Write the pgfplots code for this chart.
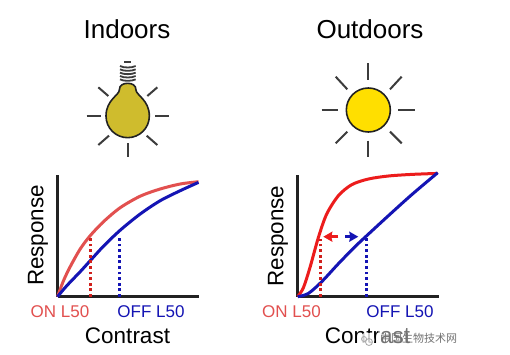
\documentclass[border=0pt]{standalone}
\usepackage{fontspec}
\setmainfont{Liberation Sans}
\newfontfamily\cjk{Noto Sans CJK SC}
\usepackage{pgfplots}
\pgfplotsset{compat=1.18}
\usetikzlibrary{arrows.meta}
\definecolor{axk}{HTML}{222222}
\definecolor{redA}{HTML}{E2504F}
\definecolor{redB}{HTML}{EC1C1C}
\definecolor{redD}{HTML}{D0201C}
\definecolor{blueA}{HTML}{1414B4}
\definecolor{bulbY}{HTML}{CFBC2D}
\definecolor{sunY}{HTML}{FFDF00}
\definecolor{ray}{HTML}{3C3C3C}
\pgfplotsset{panel/.style={
  scale only axis, width=141pt, height=122pt, anchor=south west,
  xmin=0, xmax=141, ymin=0, ymax=122, clip=false,
  axis lines=left, axis line style={-, line width=2.5pt, color=axk},
  xtick=\empty, ytick=\empty},
  curve/.style={line width=3pt, smooth, no markers},
  dots/.style={line width=3pt, dash pattern=on 2.8pt off 2.8pt, no markers}}
\begin{document}
\begin{tikzpicture}[x=1pt,y=1pt]
\useasboundingbox (0,0) rectangle (510,354);
\fill[white] (0,0) rectangle (510,354);

% Left panel
\begin{axis}[panel, at={(57.5pt,57.3pt)}]
\addplot[curve, redA] coordinates {(0,0)(6,16)(12.7,30)(22.7,47.7)(32.7,61)(46,75)(62.7,89)(82.7,100.5)(102.7,107.7)(122.7,112.7)(141,115)};
\addplot[curve, blueA] coordinates {(0,0)(9.3,11)(22.7,25)(32.7,36)(46,50.5)(62.7,66.5)(82.7,82.7)(102.7,96)(122.7,106)(141,114.3)};
\addplot[dots, redD] coordinates {(33,0)(33,58.7)};
\addplot[dots, blueA] coordinates {(62,0)(62,58.7)};
\end{axis}

% Right panel
\begin{axis}[panel, at={(297.7pt,57.3pt)}]
\addplot[curve, redB] coordinates {(0,0)(5.7,9)(12.3,29.3)(20.7,59.3)(29,82.7)(40.7,101)(54,112)(70.7,117.7)(90.7,120.7)(114,122.3)(140,123.3)};
\addplot[curve, blueA] coordinates {(0,0)(10.7,3.3)(24,15)(40.7,33)(57.3,50)(69,61)(90.7,81)(114,102)(140,124)};
\addplot[dots, redD] coordinates {(22.3,0)(22.3,58)};
\addplot[dots, blueA] coordinates {(69,0)(69,60)};
\addplot[line width=3.4pt, redB, -{Stealth[length=9pt,width=10pt,inset=1pt]}, no markers] coordinates {(40.6,60)(25.6,60)};
\addplot[line width=3.4pt, blueA, -{Stealth[length=9pt,width=10pt,inset=1pt]}, no markers] coordinates {(47.3,60)(60.6,60)};
\end{axis}

% Icons, in reference-zoom coordinates
\begin{scope}[shift={(70,344)}, x=0.33333pt, y=-0.33333pt]
  % bulb rays
  \foreach \a/\b/\c/\d in {50/318/92/318, 255/318/298/318, 85/232/115/258, 262/232/232/258, 85/405/117/377, 262/405/230/377, 173/400/173/442}
    \draw[ray, line width=2pt] (\a,\b) -- (\c,\d);
  % screw threads
  \foreach \yy in {168,178,188,198,208}
    \draw[ray, line width=1.8pt] (150,\yy) .. controls (160,\yy+6) and (186,\yy+6) .. (197,\yy);
  \draw[ray, line width=2pt] (163,157) -- (184,157);
  % glass
  \draw[fill=bulbY, draw=axk, line width=1.6pt]
    (148,240) .. controls (148,225) and (160,220) .. (173,220)
    .. controls (186,220) and (198,225) .. (198,240)
    .. controls (198,255) and (238,270) .. (238,318)
    .. controls (238,355) and (208,383) .. (173,383)
    .. controls (138,383) and (108,355) .. (108,318)
    .. controls (108,270) and (148,255) .. (148,240) -- cycle;
  % sun rays
  \foreach \a/\b/\c/\d in {895/160/895/210, 895/392/895/442, 755/300/805/300, 985/300/1035/300, 797/200/832/238, 995/200/960/238, 797/400/832/365, 995/400/960/365}
    \draw[ray, line width=2pt] (\a,\b) -- (\c,\d);
  \draw[fill=sunY, draw=axk, line width=1.6pt] (895,300) circle[x radius=66, y radius=66];
\end{scope}

% Text
\node[anchor=base, inner sep=0pt] at (127,354-39) {\fontsize{26}{26}\selectfont Indoors};
\node[anchor=base, inner sep=0pt] at (370,354-39) {\fontsize{26}{26}\selectfont Outdoors};
\node[anchor=base, inner sep=0pt, rotate=90] at (43.3,354-235.5) {\fontsize{22.4}{22.4}\selectfont Response};
\node[anchor=base, inner sep=0pt, rotate=90] at (283.3,354-236) {\fontsize{22.4}{22.4}\selectfont Response};
\node[anchor=base, inner sep=0pt] at (127.5,354-343) {\fontsize{22.5}{22.5}\selectfont Contrast};
\node[anchor=base, inner sep=0pt] at (367.5,354-343) {\fontsize{22.5}{22.5}\selectfont Contrast};
\node[anchor=base, inner sep=0pt, text=redA] at (60,354-317) {\fontsize{17}{17}\selectfont ON L50};
\node[anchor=base, inner sep=0pt, text=blueA] at (151,354-317) {\fontsize{17}{17}\selectfont OFF L50};
\node[anchor=base, inner sep=0pt, text=redA] at (291.5,354-317) {\fontsize{17}{17}\selectfont ON L50};
\node[anchor=base, inner sep=0pt, text=blueA] at (400,354-317) {\fontsize{17}{17}\selectfont OFF L50};

% Watermark
\fill[white, opacity=0.45] (378,354-347) rectangle (460,354-329);
\fill[white, opacity=0.8] (367,354-340) circle[radius=7.5];
\draw[gray!70, line width=0.8pt] (369,354-342) circle[radius=3.5];
\draw[gray!70, line width=0.8pt] (364,354-339) circle[radius=2.5];
\node[inner sep=0pt, text=black!55] at (418.7,354-338) {\cjk\fontsize{11}{11}\selectfont 中国生物技术网};
\end{tikzpicture}
\end{document}
